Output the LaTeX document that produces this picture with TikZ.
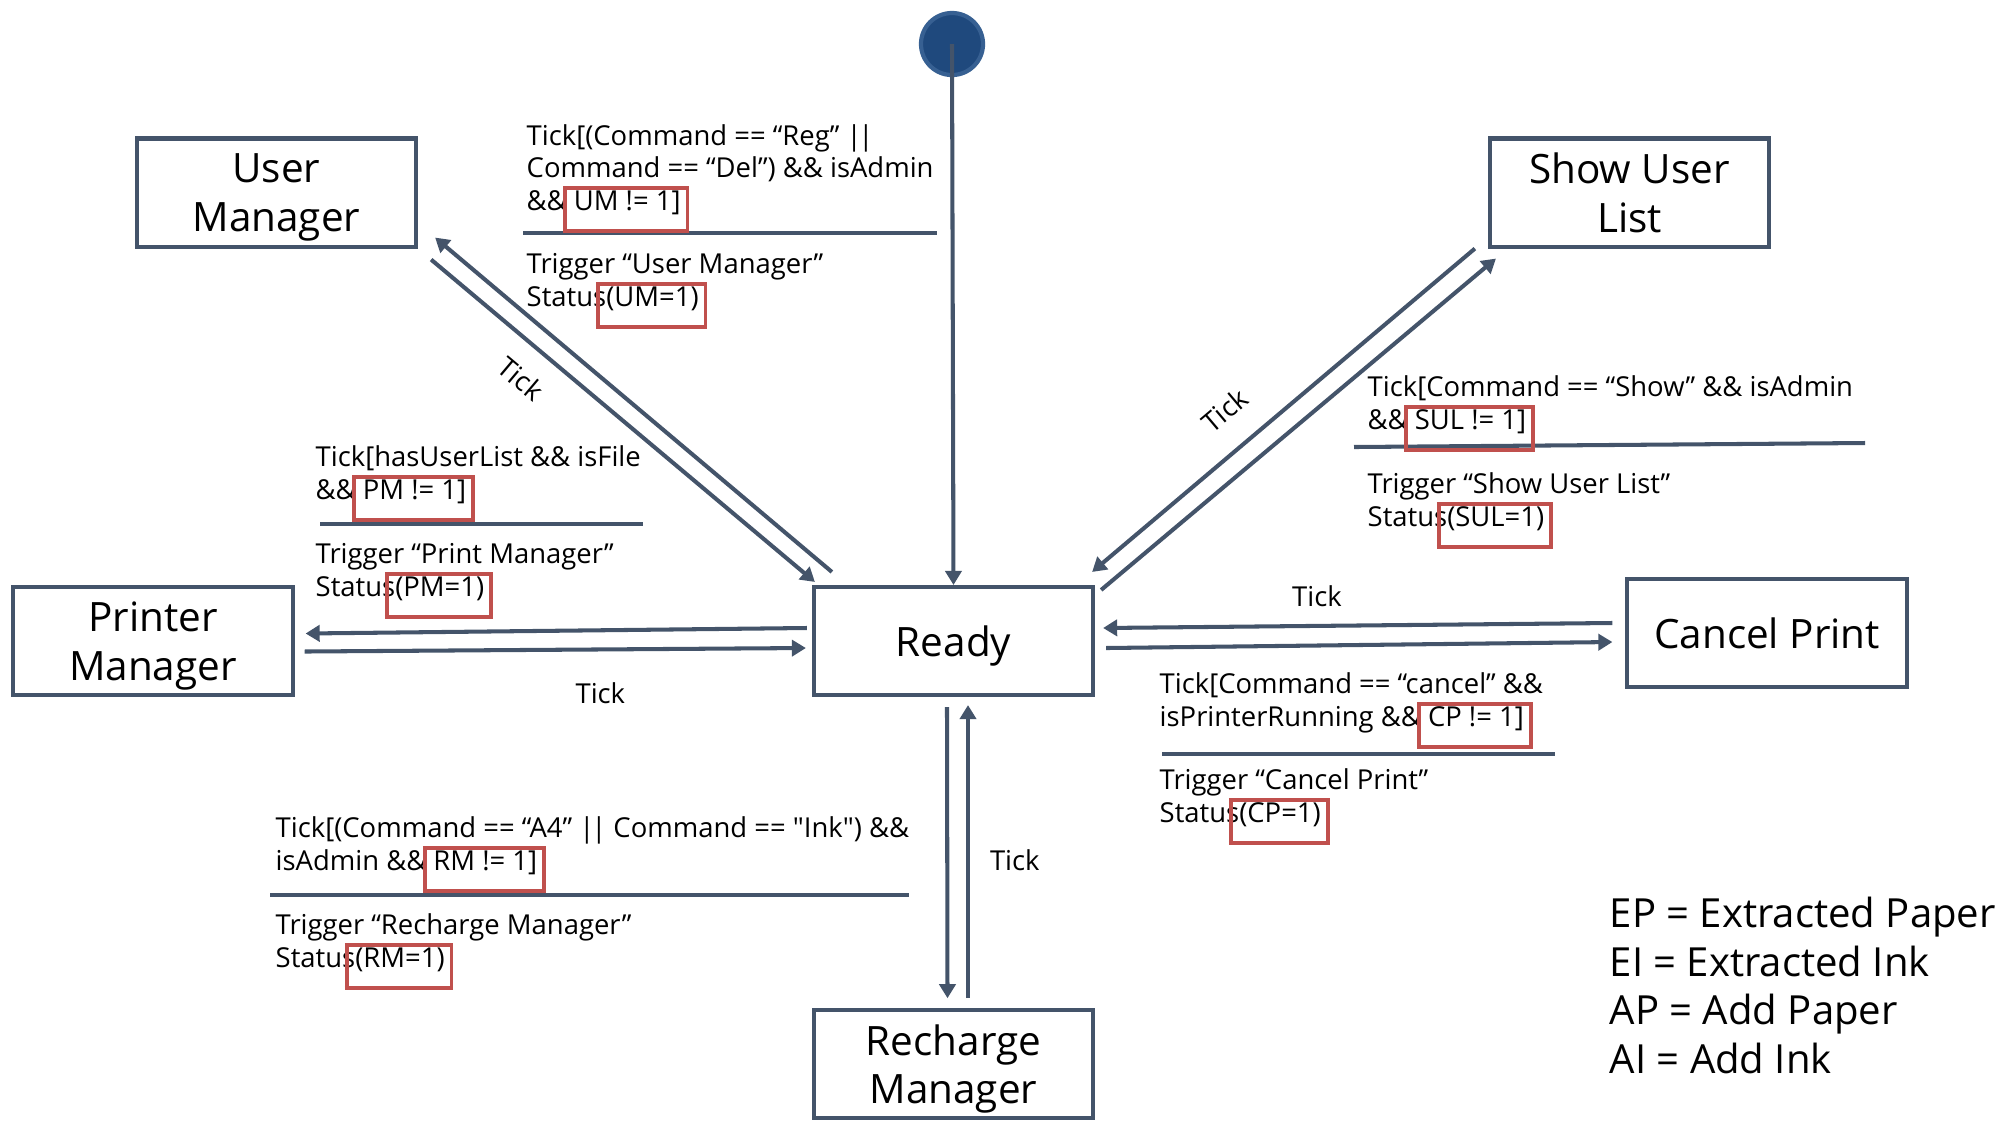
\documentclass[tikz,border=0pt]{standalone}
\usepackage{fontspec}
\setmainfont{Open Sans}[Ligatures=TeXOff]
\usetikzlibrary{arrows.meta,positioning}
\definecolor{slate}{RGB}{68,84,106}
\definecolor{boxred}{RGB}{192,80,77}
\definecolor{startblue}{RGB}{31,73,125}
\definecolor{startrim}{RGB}{55,96,146}

\newlength\hlwd
\newcommand\hlbox[1]{\settowidth\hlwd{#1}%
  \rlap{\kern-3pt\raisebox{-5.5pt}{\color{boxred}\fboxsep=0pt\fboxrule=1.1pt%
  \fbox{\rule{0pt}{11.3pt}\kern\dimexpr\hlwd+3.3pt\relax}}}#1}
\newcommand\orop{|\kern-0.9pt|}

\tikzset{
  state/.style    = {draw=slate, line width=1.15pt, minimum width=2.79cm,
                     minimum height=1.08cm, align=center, inner sep=0pt,
                     text depth=0pt, font=\fontsize{11.5}{13.8}\selectfont},
  startdot/.style = {circle, fill=startblue, draw=startrim, line width=1.2pt,
                     minimum size=0.62cm, inner sep=0pt},
  guard/.style    = {anchor=base west, align=left, inner sep=0pt,
                     font=\fontsize{7.8}{9.2}\selectfont},
  tick/.style     = {inner sep=0pt, font=\fontsize{7.8}{9.2}\selectfont},
  trans/.style    = {->, draw=slate, line width=1.15pt},
  bar/.style      = {draw=slate, line width=1.15pt},
  legend/.style   = {anchor=base west, align=left, inner sep=0pt,
                     font=\fontsize{11.4}{13.75}\selectfont}
}

\begin{document}
\begin{tikzpicture}[x=0.01cm, y=-0.01cm, >={Triangle[length=4pt,width=4.6pt]}]
\useasboundingbox (0,0) rectangle (1999,1120);

% states, Ready in the middle
\node[state] (ready) at (953.5,641) {Ready};
\node[state] (um)  at (276.5,192.5)  {User\\Manager};
\node[state] (sul) at (1629.5,192.5) {Show User\\List};
\node[state, left=5.17cm of ready]             (pm) {Printer\\Manager};
\node[state, right=5.3cm of ready, yshift=0.08cm] (cp) {Cancel Print};
\node[state, below=3.11cm of ready]            (rm) {Recharge\\Manager};
\node[startdot] (init) at (952,44) {};

\draw[trans] (init.center) -- (ready.north);

% ready <-> user manager
\draw[trans] ([xshift=0.2cm,yshift=0.13cm]ready.north west) -- ([xshift=0.17cm,yshift=0.11cm]um.south east);
\draw[trans] ([xshift=0.13cm,yshift=-0.11cm]um.south east) -- node[tick, sloped, below, inner ysep=0.21cm, pos=0.29] (tickum) {Tick} ([xshift=0.03cm,yshift=0.03cm]ready.north west);

% ready <-> show user list
\draw[trans] ([xshift=-0.13cm]sul.south west) -- node[tick, sloped, above, inner ysep=0.255cm, pos=0.59] (ticksul) {Tick} ([xshift=-0.03cm,yshift=0.13cm]ready.north east);
\draw[trans] ([xshift=0.06cm,yshift=-0.05cm]ready.north east) -- ([xshift=0.08cm,yshift=-0.1cm]sul.south west);

% ready <-> printer manager
\draw[trans] ([xshift=-0.05cm,yshift=0.13cm]ready.west) -- ([xshift=0.11cm,yshift=0.075cm]pm.east);
\draw[trans] ([xshift=0.1cm,yshift=-0.105cm]pm.east) -- node[tick, below, inner ysep=0.315cm, pos=0.59] (tickpm) {Tick} ([xshift=-0.06cm,yshift=-0.07cm]ready.west);

% ready <-> cancel print
\draw[trans] ([xshift=-0.13cm,yshift=0.1cm]cp.west) -- node[tick, above, inner ysep=0.175cm, pos=0.58] (tickcp) {Tick} ([xshift=0.08cm,yshift=0.13cm]ready.east);
\draw[trans] ([xshift=0.11cm,yshift=-0.07cm]ready.east) -- ([xshift=-0.13cm,yshift=-0.09cm]cp.west);

% ready <-> recharge manager
\draw[trans] ([xshift=-0.065cm,yshift=-0.1cm]ready.south) -- ([xshift=-0.06cm,yshift=0.1cm]rm.north);
\draw[trans] ([xshift=0.145cm,yshift=0.1cm]rm.north) -- node[tick, right, inner xsep=0.2cm, pos=0.47] (tickrm) {Tick} ([xshift=0.145cm,yshift=-0.08cm]ready.south);

% guard / action separators
\foreach \xa/\xb/\ya/\yb in {523/937/233/233, 1354/1865/447/443, 320/643/524/524, 1162/1555/754/754, 270/909/895/895}
  \draw[bar] (\xa,\ya) -- (\xb,\yb);

% base anchor sits on the last line of each block
\node[guard] (umguard)  at (526,210)  {Tick[(Command == “Reg” \orop\\Command == “Del”) \&\& isAdmin\\\&\& \hlbox{UM != 1]}};
\node[guard] (umact)    at (526,306)  {Trigger “User Manager”\\Status\hlbox{(UM=1)}};
\node[guard] (sulguard) at (1367,429) {Tick[Command == “Show” \&\& isAdmin\\\&\& \hlbox{SUL != 1]}};
\node[guard] (sulact)   at (1367,526) {Trigger “Show User List”\\Status\hlbox{(SUL=1)}};
\node[guard] (pmguard)  at (315,499)  {Tick[hasUserList \&\& isFile\\\&\& \hlbox{PM != 1]}};
\node[guard] (pmact)    at (315,596)  {Trigger “Print Manager”\\Status\hlbox{(PM=1)}};
\node[guard] (cpguard)  at (1159,726) {Tick[Command == “cancel” \&\&\\isPrinterRunning \&\& \hlbox{CP != 1]}};
\node[guard] (cpact)    at (1159,822) {Trigger “Cancel Print”\\Status\hlbox{(CP=1)}};
\node[guard] (rmguard)  at (275,870)  {Tick[(Command == “A4” \orop{} Command == "Ink") \&\&\\isAdmin \&\& \hlbox{RM != 1]}};
\node[guard] (rmact)    at (275,967)  {Trigger “Recharge Manager”\\Status\hlbox{(RM=1)}};

\node[legend] (abbrev) at (1609,1073) {EP = Extracted Paper\\EI = Extracted Ink\\AP = Add Paper\\AI = Add Ink};

\end{tikzpicture}
\end{document}
